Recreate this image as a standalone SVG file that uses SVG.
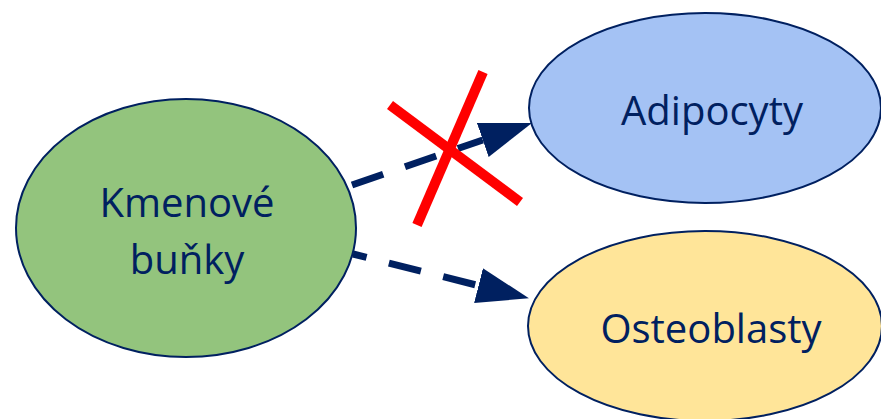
<svg xmlns="http://www.w3.org/2000/svg" width="881" height="419" viewBox="0 0 881 419">
  <style>
    .node ellipse { stroke: #002060; stroke-width: 2; }
    .label { font-family: "Open Sans", "Liberation Sans", sans-serif; font-size: 40px; fill: #002060; text-anchor: middle; }
    .edge { stroke: #002060; stroke-width: 7; stroke-dasharray: 33 23; fill: none; }
    .cross { stroke: #ff0000; stroke-width: 10; }
  </style>
  <defs>
    <marker id="arrow" markerUnits="userSpaceOnUse" viewBox="0 0 52 36" markerWidth="52" markerHeight="36" refX="0" refY="18" orient="auto">
      <path d="M0,0 L52,18 L0,36 Z" fill="#002060"/>
    </marker>
  </defs>

  <rect width="881" height="419" fill="#ffffff"/>

  <g id="stem-cells" class="node">
    <ellipse cx="186" cy="228" rx="170" ry="129" fill="#93c47d"/>
    <text class="label" x="187" y="217">Kmenové</text>
    <text class="label" x="187" y="274">buňky</text>
  </g>

  <g id="adipocytes" class="node">
    <ellipse cx="705" cy="108" rx="176" ry="95" fill="#a4c2f4"/>
    <text class="label" x="712" y="125">Adipocyty</text>
  </g>

  <g id="osteoblasts" class="node">
    <ellipse cx="705" cy="326" rx="177" ry="95" fill="#ffe599"/>
    <text class="label" x="711" y="343">Osteoblasty</text>
  </g>

  <g id="connectors">
    <line class="edge" x1="352" y1="185" x2="482.8" y2="140" marker-end="url(#arrow)"/>
    <line class="edge" x1="353" y1="254" x2="478.5" y2="285.6" stroke-dashoffset="19" marker-end="url(#arrow)"/>
    <g id="blocked">
      <line class="cross" x1="390" y1="105" x2="520" y2="202"/>
      <line class="cross" x1="483" y1="72" x2="417" y2="225"/>
    </g>
  </g>
</svg>
